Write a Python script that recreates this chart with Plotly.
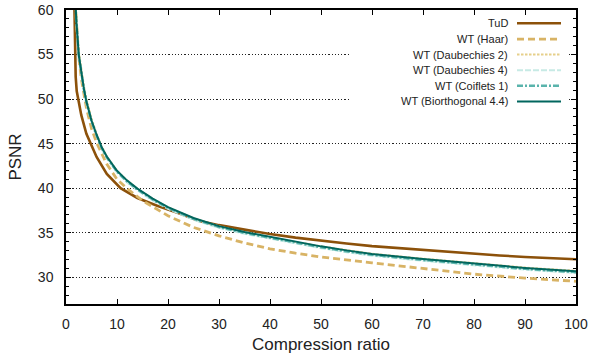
import plotly.graph_objects as go

# ---- data ----
x_tud = [1.6, 1.7, 1.8, 1.9, 2.1, 2.35, 3, 4, 4.8, 6, 8, 10.7, 14, 18, 22, 26, 30, 34, 40, 45, 50, 55, 60, 65, 70, 75, 80, 85, 90, 95, 100]
y_tud = [62, 57, 54, 52.5, 50.9, 50, 48.2, 46.1, 45, 43.5, 41.6, 40, 38.9, 38.0, 37.2, 36.35, 35.85, 35.45, 34.85, 34.45, 34.1, 33.8, 33.5, 33.28, 33.08, 32.88, 32.66, 32.45, 32.28, 32.12, 32.02]

x_haar = [1.8, 2, 2.5, 3, 4, 5, 6, 7, 8, 10, 12, 15, 20, 25, 30, 35, 40, 45, 50, 60, 70, 80, 90, 100]
y_haar = [62, 59, 54.8, 52.3, 49, 46.7, 45.1, 43.8, 42.7, 41.0, 39.95, 38.6, 36.9, 35.6, 34.65, 33.85, 33.2, 32.7, 32.28, 31.62, 30.95, 30.35, 29.9, 29.55]

x_wt = [1.8, 2, 2.5, 3, 3.5, 4, 5, 6, 7, 8, 10, 12, 14, 17, 20, 25, 30, 35, 40, 45, 50, 55, 60, 70, 80, 90, 100]
y_db2 = [62.5, 59.6, 55.4, 53.2, 51.5, 50.0, 47.8, 46.1, 44.65, 43.58, 41.95, 40.85, 39.93, 38.8, 37.85, 36.62, 35.72, 35.06, 34.5, 33.97, 33.47, 33.03, 32.64, 32.08, 31.56, 31.09, 30.72]
y_db4 = [62, 58.8, 54.8, 52.6, 51.0, 49.55, 47.4, 45.8, 44.4, 43.35, 41.75, 40.65, 39.75, 38.62, 37.68, 36.45, 35.55, 34.88, 34.32, 33.78, 33.27, 32.82, 32.42, 31.85, 31.32, 30.85, 30.48]
y_coif = [62, 58.9, 54.9, 52.7, 51.1, 49.65, 47.5, 45.9, 44.5, 43.45, 41.85, 40.75, 39.85, 38.72, 37.78, 36.55, 35.64, 34.97, 34.41, 33.87, 33.36, 32.91, 32.51, 31.94, 31.41, 30.94, 30.57]
y_bior = [62, 59, 55, 52.8, 51.2, 49.75, 47.6, 46.0, 44.6, 43.55, 41.95, 40.85, 39.95, 38.82, 37.88, 36.65, 35.74, 35.08, 34.52, 33.98, 33.47, 33.02, 32.62, 32.05, 31.52, 31.05, 30.67]

names = ["TuD", "WT (Haar)", "WT (Daubechies 2)", "WT (Daubechies 4)", "WT (Coiflets 1)", "WT (Biorthogonal 4.4)"]
xs = [x_tud, x_haar, x_wt, x_wt, x_wt, x_wt]
ys = [y_tud, y_haar, y_db2, y_db4, y_coif, y_bior]
colors = ["#8c510a", "#d8b365", "#e6cf8a", "#c7eae5", "#5ab4ac", "#01665e"]
dashes = ["solid", "7px,4px", "2.5px,1.5px", "6px,2px", "6px,2px,2px,2px", "solid"]
widths = [2.6, 2.8, 2.0, 2.0, 2.4, 2.0]

fig = go.Figure()
for n, x, y, c, d, w in zip(names, xs, ys, colors, dashes, widths):
    fig.add_trace(go.Scatter(x=x, y=y, mode="lines", name=n,
                             line=dict(color=c, dash=d, width=w), showlegend=False))

FONT = "Liberation Sans, Arial, sans-serif"

# plot area in pixels: x 66..576, y 10..304
L, R, T, B = 66, 14, 10, 54
W, H = 590, 358
pw, ph = W - L - R, H - T - B

def px(xp):
    return (xp - L) / pw

def py(yp):
    return (H - B - yp) / ph

shapes = [dict(type="rect", xref="paper", yref="paper", x0=px(349), x1=px(569), y0=py(110), y1=py(16),
               fillcolor="white", line=dict(width=0), layer="above")]
annotations = []
row_y = [23.3, 39.1, 54.6, 70.2, 85.8, 101.5]
for n, c, d, w, ry in zip(names, colors, dashes, widths, row_y):
    shapes.append(dict(type="line", xref="paper", yref="paper", x0=px(517), x1=px(561), y0=py(ry), y1=py(ry),
                       line=dict(color=c, dash=d, width=w), layer="above"))
    annotations.append(dict(xref="paper", yref="paper", x=px(510), y=py(ry), text=n, showarrow=False,
                            xanchor="right", yanchor="middle", font=dict(family=FONT, size=11, color="#222")))

axis_common = dict(showline=True, linecolor="black", linewidth=1.5, mirror="ticks", ticks="inside",
                   tickcolor="black", tickwidth=1, ticklen=5, zeroline=False, automargin=False,
                   tickfont=dict(family=FONT, size=14, color="#222"))

fig.update_layout(
    width=W, height=H, margin=dict(l=L, r=R, t=T, b=B, autoexpand=False),
    plot_bgcolor="white", paper_bgcolor="white",
    shapes=shapes, annotations=annotations, showlegend=False,
    xaxis=dict(range=[0, 100], tick0=0, dtick=10, showgrid=False, ticklabelstandoff=6,
               title=dict(text="Compression ratio", font=dict(family=FONT, size=17, color="#222"), standoff=8),
               **axis_common),
    yaxis=dict(range=[27, 60], tick0=30, dtick=5, showgrid=True, gridcolor="#222", gridwidth=1.2,
               griddash="1.2px,2px", ticklabelstandoff=8,
               minor=dict(dtick=1, ticks="inside", ticklen=3, tickcolor="black", showgrid=False),
               title=dict(text="PSNR", font=dict(family=FONT, size=17, color="#222"), standoff=12),
               **axis_common),
)

fig.write_html("out.html")
